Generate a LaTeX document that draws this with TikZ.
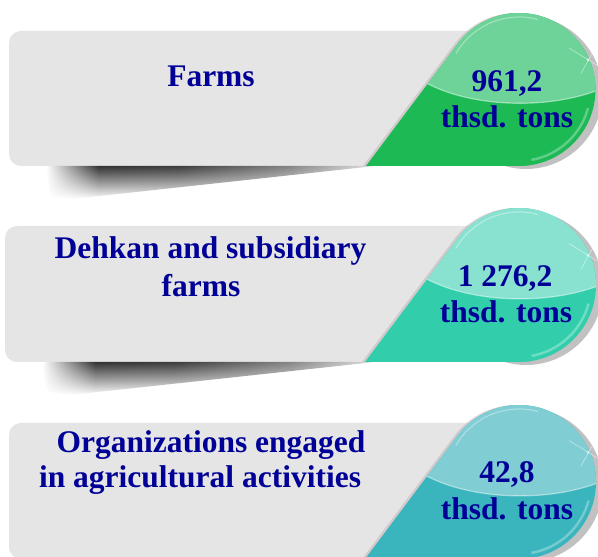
\documentclass[tikz,border=0pt]{standalone}
\usepackage{fontspec}
\setmainfont{Liberation Serif}
\usetikzlibrary{fadings}
\definecolor{txtblue}{RGB}{0,0,150}
\definecolor{boxgray}{RGB}{229,229,230}
\definecolor{edgepink}{RGB}{200,184,190}
\definecolor{gA}{RGB}{28,185,85}
\definecolor{gAl}{RGB}{110,211,152}
\definecolor{gB}{RGB}{50,206,171}
\definecolor{gBl}{RGB}{136,226,207}
\definecolor{gC}{RGB}{58,181,189}
\definecolor{gCl}{RGB}{128,205,211}
\pgfdeclarehorizontalshading{shadowsh}{100bp}{color(0bp)=(white); color(25bp)=(white); color(33bp)=(black!80); color(45bp)=(black!76); color(62bp)=(black!48); color(75bp)=(black!12); color(100bp)=(black!12)}
\tikzfading[name=shfade, top color=transparent!0, bottom color=transparent!100]
\newcommand{\dropshape}[3]{(#1-2*#3,#2-#3) -- (#1,#2-#3) arc[start angle=-90,end angle=143.13,radius=#3] -- cycle}
\newcommand{\mydrop}[5]{%
  \fill[black!40, opacity=.6] (#1+7,#2-3) circle[radius=#3];
  \fill[edgepink, opacity=.6] \dropshape{#1-3}{#2}{#3};
  \fill[#4] \dropshape{#1}{#2}{#3};
  \begin{scope}
    \clip \dropshape{#1}{#2}{#3};
    \fill[#5] (#1+1,#2+0.62*#3) ellipse[x radius=1.647*#3, y radius=0.80*#3];
    \draw[white, opacity=.45, line width=1.2] (#1+1,#2+0.62*#3) ellipse[x radius=1.647*#3, y radius=0.80*#3];
    \draw[white, opacity=.3, line width=2.5] (#1,#2) ++(-15:{#3-5}) arc[start angle=-15, end angle=-80, radius={#3-5}];
    \draw[white, opacity=.35, line width=1.2] (#1,#2) ++(150:{#3-4}) arc[start angle=150, end angle=75, radius={#3-4}];
  \end{scope}
  \draw[white, opacity=.6, line width=.5] (#1+50,#2+41.5) -- (#1+80,#2+23);
  \draw[white, opacity=.6, line width=.5] (#1+77,#2+43) -- (#1+62,#2+16);
  \fill[white, opacity=.6] (#1+69,#2+29.5) circle[radius=1.5];
}
\begin{document}
\begin{tikzpicture}[x=1pt,y=1pt,
  lbl/.style={text=txtblue, font=\bfseries\fontsize{31.5}{36}\selectfont, inner sep=0pt, anchor=base},
  graybox/.style={fill=boxgray, rounded corners=12pt},
  boxshadow/.style={shading=shadowsh, path fading=shfade, rounded corners=5pt}]
\clip (0,0) rectangle (598,557);
\fill[white] (0,0) rectangle (598,557);
% row 1
\fill[graybox] (9,391) rectangle (540,526);
\shade[boxshadow] (46,391) -- (375,391) -- (72,358) -- (50,361) -- cycle;
\mydrop{519}{467.5}{76.5}{gA}{gAl}
\node[lbl] (farms) at (211,470) {Farms};
\node[lbl] (v1a) at (507,465) {961,2};
\node[lbl] (v1b) at (507,429) {thsd. tons};
% row 2
\fill[graybox] (5,195) rectangle (540,331);
\shade[boxshadow] (42,195) -- (375,195) -- (70,162) -- (47,165) -- cycle;
\mydrop{519}{272}{77}{gB}{gBl}
\node[lbl] (d1) at (210.5,298) {Dehkan and subsidiary};
\node[lbl] (d2) at (201,260) {farms};
\node[lbl] (v2a) at (505,270) {1 276,2};
\node[lbl] (v2b) at (506,234) {thsd. tons};
% row 3
\fill[graybox] (9,-2) rectangle (540,134);
\mydrop{519}{75}{77}{gC}{gCl}
\node[lbl] (o1) at (211,104) {Organizations engaged};
\node[lbl] (o2) at (200,69) {in agricultural activities};
\node[lbl] (v3a) at (507,74) {42,8};
\node[lbl] (v3b) at (507,37) {thsd. tons};
\end{tikzpicture}
\end{document}
